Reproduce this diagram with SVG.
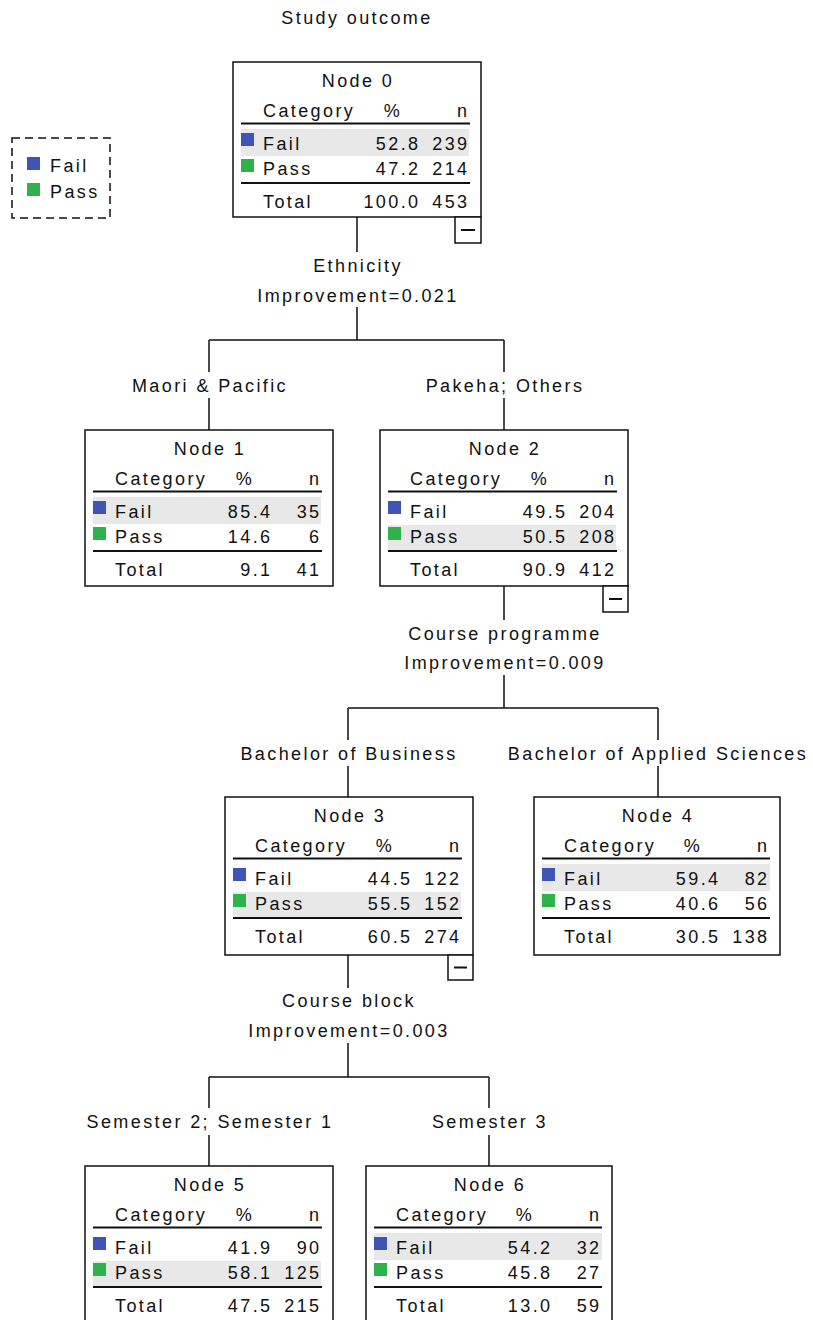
<svg xmlns="http://www.w3.org/2000/svg" width="813" height="1320" viewBox="0 0 813 1320">
<style>
.t{font-family:"Liberation Sans",Arial,sans-serif;font-size:18px;letter-spacing:2.4px;fill:#111}
.m{text-anchor:middle}
.e{text-anchor:end}
.box{fill:#fff;stroke:#111;stroke-width:1.5}
.rule{stroke:#111;stroke-width:2}
.band{fill:#e8e8e8}
.fail{fill:#3f55b5}
.pass{fill:#2db34a}
.con{stroke:#111;stroke-width:1.5;fill:none}
.col{fill:#fff;stroke:#111;stroke-width:1.5}
</style>
<rect width="813" height="1320" fill="#fff"/>
<text class="t m" x="357" y="24">Study outcome</text>

<g id="legend">
<rect x="12" y="138" width="98" height="80" fill="none" stroke="#111" stroke-width="1.5" stroke-dasharray="8 5"/>
<rect class="fail" x="27" y="157" width="13" height="13"/>
<text class="t" x="50" y="172">Fail</text>
<rect class="pass" x="27" y="183" width="13" height="13"/>
<text class="t" x="50" y="198">Pass</text>
</g>

<g id="connectors">
<path class="con" d="M357 217V252M357 307V340M209 340H504M209 340V372M209 398V430M504 340V372M504 398V430"/>
<text class="t m" x="358" y="272">Ethnicity</text>
<text class="t m" x="358" y="302">Improvement=0.021</text>
<text class="t m" x="210" y="392">Maori &amp; Pacific</text>
<text class="t m" x="505" y="392">Pakeha; Others</text>
<path class="con" d="M504 586V620M504 675V708M348 708H658M348 708V740M348 766V797M658 708V740M658 766V797"/>
<text class="t m" x="505" y="640">Course programme</text>
<text class="t m" x="505" y="669">Improvement=0.009</text>
<text class="t m" x="349" y="760">Bachelor of Business</text>
<text class="t m" x="658" y="760">Bachelor of Applied Sciences</text>
<path class="con" d="M348 955V988M348 1043V1077M209 1077H489M209 1077V1108M209 1135V1166M489 1077V1108M489 1135V1166"/>
<text class="t m" x="349" y="1007">Course block</text>
<text class="t m" x="349" y="1037">Improvement=0.003</text>
<text class="t m" x="210" y="1128">Semester 2; Semester 1</text>
<text class="t m" x="490" y="1128">Semester 3</text>
</g>

<g id="node0" transform="translate(233,62)">
<rect class="box" x="0" y="0" width="248" height="155"/>
<rect class="band" x="8" y="67" width="228" height="27"/>
<text class="t m" x="125" y="25">Node 0</text>
<text class="t" x="30" y="55">Category</text><text class="t m" x="160" y="55">%</text><text class="t e" x="236.5" y="55">n</text>
<line class="rule" x1="8" y1="61.5" x2="237" y2="61.5"/>
<rect class="fail" x="8" y="71" width="13" height="13"/><text class="t" x="30" y="88">Fail</text><text class="t e" x="187.5" y="88">52.8</text><text class="t e" x="236.5" y="88">239</text>
<rect class="pass" x="8" y="97" width="13" height="13"/><text class="t" x="30" y="113">Pass</text><text class="t e" x="187.5" y="113">47.2</text><text class="t e" x="236.5" y="113">214</text>
<line class="rule" x1="8" y1="121" x2="237" y2="121"/>
<text class="t" x="30" y="146">Total</text><text class="t e" x="187.5" y="146">100.0</text><text class="t e" x="236.5" y="146">453</text>
<rect class="col" x="222" y="155" width="26" height="26"/><line class="rule" x1="228" y1="168" x2="242" y2="168"/>
</g>

<g id="node1" transform="translate(85,430)">
<rect class="box" x="0" y="0" width="248" height="156"/>
<rect class="band" x="8" y="67" width="228" height="27"/>
<text class="t m" x="125" y="25">Node 1</text>
<text class="t" x="30" y="55">Category</text><text class="t m" x="160" y="55">%</text><text class="t e" x="236.5" y="55">n</text>
<line class="rule" x1="8" y1="61.5" x2="237" y2="61.5"/>
<rect class="fail" x="8" y="71" width="13" height="13"/><text class="t" x="30" y="88">Fail</text><text class="t e" x="187.5" y="88">85.4</text><text class="t e" x="236.5" y="88">35</text>
<rect class="pass" x="8" y="97" width="13" height="13"/><text class="t" x="30" y="113">Pass</text><text class="t e" x="187.5" y="113">14.6</text><text class="t e" x="236.5" y="113">6</text>
<line class="rule" x1="8" y1="121" x2="237" y2="121"/>
<text class="t" x="30" y="146">Total</text><text class="t e" x="187.5" y="146">9.1</text><text class="t e" x="236.5" y="146">41</text>
</g>

<g id="node2" transform="translate(380,430)">
<rect class="box" x="0" y="0" width="248" height="156"/>
<rect class="band" x="8" y="95" width="228" height="25"/>
<text class="t m" x="125" y="25">Node 2</text>
<text class="t" x="30" y="55">Category</text><text class="t m" x="160" y="55">%</text><text class="t e" x="236.5" y="55">n</text>
<line class="rule" x1="8" y1="61.5" x2="237" y2="61.5"/>
<rect class="fail" x="8" y="71" width="13" height="13"/><text class="t" x="30" y="88">Fail</text><text class="t e" x="187.5" y="88">49.5</text><text class="t e" x="236.5" y="88">204</text>
<rect class="pass" x="8" y="97" width="13" height="13"/><text class="t" x="30" y="113">Pass</text><text class="t e" x="187.5" y="113">50.5</text><text class="t e" x="236.5" y="113">208</text>
<line class="rule" x1="8" y1="121" x2="237" y2="121"/>
<text class="t" x="30" y="146">Total</text><text class="t e" x="187.5" y="146">90.9</text><text class="t e" x="236.5" y="146">412</text>
<rect class="col" x="223" y="156" width="25" height="26"/><line class="rule" x1="229" y1="169" x2="242" y2="169"/>
</g>

<g id="node3" transform="translate(225,797)">
<rect class="box" x="0" y="0" width="248" height="158"/>
<rect class="band" x="8" y="95" width="228" height="25"/>
<text class="t m" x="125" y="25">Node 3</text>
<text class="t" x="30" y="55">Category</text><text class="t m" x="160" y="55">%</text><text class="t e" x="236.5" y="55">n</text>
<line class="rule" x1="8" y1="61.5" x2="237" y2="61.5"/>
<rect class="fail" x="8" y="71" width="13" height="13"/><text class="t" x="30" y="88">Fail</text><text class="t e" x="187.5" y="88">44.5</text><text class="t e" x="236.5" y="88">122</text>
<rect class="pass" x="8" y="97" width="13" height="13"/><text class="t" x="30" y="113">Pass</text><text class="t e" x="187.5" y="113">55.5</text><text class="t e" x="236.5" y="113">152</text>
<line class="rule" x1="8" y1="121" x2="237" y2="121"/>
<text class="t" x="30" y="146">Total</text><text class="t e" x="187.5" y="146">60.5</text><text class="t e" x="236.5" y="146">274</text>
<rect class="col" x="223" y="158" width="25" height="25"/><line class="rule" x1="229" y1="170.5" x2="242" y2="170.5"/>
</g>

<g id="node4" transform="translate(534,797)">
<rect class="box" x="0" y="0" width="246" height="158"/>
<rect class="band" x="8" y="67" width="228" height="27"/>
<text class="t m" x="124" y="25">Node 4</text>
<text class="t" x="30" y="55">Category</text><text class="t m" x="159" y="55">%</text><text class="t e" x="235.5" y="55">n</text>
<line class="rule" x1="8" y1="61.5" x2="236" y2="61.5"/>
<rect class="fail" x="8" y="71" width="13" height="13"/><text class="t" x="30" y="88">Fail</text><text class="t e" x="186.5" y="88">59.4</text><text class="t e" x="235.5" y="88">82</text>
<rect class="pass" x="8" y="97" width="13" height="13"/><text class="t" x="30" y="113">Pass</text><text class="t e" x="186.5" y="113">40.6</text><text class="t e" x="235.5" y="113">56</text>
<line class="rule" x1="8" y1="121" x2="236" y2="121"/>
<text class="t" x="30" y="146">Total</text><text class="t e" x="186.5" y="146">30.5</text><text class="t e" x="235.5" y="146">138</text>
</g>

<g id="node5" transform="translate(85,1166)">
<rect class="box" x="0" y="0" width="248" height="156"/>
<rect class="band" x="8" y="95" width="228" height="25"/>
<text class="t m" x="125" y="25">Node 5</text>
<text class="t" x="30" y="55">Category</text><text class="t m" x="160" y="55">%</text><text class="t e" x="236.5" y="55">n</text>
<line class="rule" x1="8" y1="61.5" x2="237" y2="61.5"/>
<rect class="fail" x="8" y="71" width="13" height="13"/><text class="t" x="30" y="88">Fail</text><text class="t e" x="187.5" y="88">41.9</text><text class="t e" x="236.5" y="88">90</text>
<rect class="pass" x="8" y="97" width="13" height="13"/><text class="t" x="30" y="113">Pass</text><text class="t e" x="187.5" y="113">58.1</text><text class="t e" x="236.5" y="113">125</text>
<line class="rule" x1="8" y1="121" x2="237" y2="121"/>
<text class="t" x="30" y="146">Total</text><text class="t e" x="187.5" y="146">47.5</text><text class="t e" x="236.5" y="146">215</text>
</g>

<g id="node6" transform="translate(366,1166)">
<rect class="box" x="0" y="0" width="246" height="156"/>
<rect class="band" x="8" y="67" width="228" height="27"/>
<text class="t m" x="124" y="25">Node 6</text>
<text class="t" x="30" y="55">Category</text><text class="t m" x="159" y="55">%</text><text class="t e" x="235.5" y="55">n</text>
<line class="rule" x1="8" y1="61.5" x2="236" y2="61.5"/>
<rect class="fail" x="8" y="71" width="13" height="13"/><text class="t" x="30" y="88">Fail</text><text class="t e" x="186.5" y="88">54.2</text><text class="t e" x="235.5" y="88">32</text>
<rect class="pass" x="8" y="97" width="13" height="13"/><text class="t" x="30" y="113">Pass</text><text class="t e" x="186.5" y="113">45.8</text><text class="t e" x="235.5" y="113">27</text>
<line class="rule" x1="8" y1="121" x2="236" y2="121"/>
<text class="t" x="30" y="146">Total</text><text class="t e" x="186.5" y="146">13.0</text><text class="t e" x="235.5" y="146">59</text>
</g>
</svg>
